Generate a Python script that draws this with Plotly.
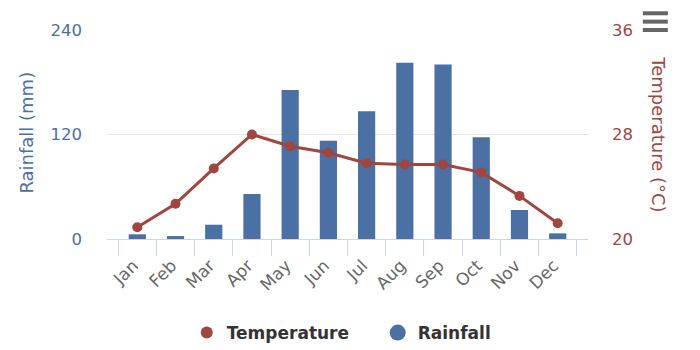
import plotly.graph_objects as go

months = ["Jan", "Feb", "Mar", "Apr", "May", "Jun", "Jul", "Aug", "Sep", "Oct", "Nov", "Dec"]
rainfall = [5.4, 3.4, 16.4, 51.7, 171.0, 112.9, 146.6, 202.4, 200.5, 116.7, 33.3, 6.5]
temperature = [20.9, 22.7, 25.4, 28.0, 27.1, 26.6, 25.8, 25.7, 25.7, 25.1, 23.3, 21.2]
rain_ticks = [0, 120, 240]
temp_ticks = [20, 28, 36]

BLUE = "#4b70a3"
RED = "#a0463f"
FONT = "DejaVu Sans"
PAD = "\u00a0" * 4

fig = go.Figure()
fig.add_trace(go.Bar(x=months, y=rainfall, name="Rainfall", marker=dict(color=BLUE, line=dict(width=0)),
                     showlegend=False, yaxis="y"))
fig.add_trace(go.Scatter(x=months, y=temperature, name="Temperature", mode="lines+markers",
                         line=dict(color=RED, width=3), marker=dict(color=RED, size=10),
                         showlegend=False, yaxis="y2"))
# legend-only entries with circle symbols
fig.add_trace(go.Scatter(x=[None], y=[None], name="Temperature" + PAD, mode="markers",
                         marker=dict(color=RED, size=12), yaxis="y2"))
fig.add_trace(go.Scatter(x=[None], y=[None], name="Rainfall", mode="markers",
                         marker=dict(color=BLUE, size=19), yaxis="y2"))

fig.update_layout(
    width=700, height=350,
    margin=dict(l=107, r=112, t=30, b=111, autoexpand=False),
    paper_bgcolor="white", plot_bgcolor="white",
    font=dict(family=FONT, size=15, color="#666666"),
    bargap=0.55,
    xaxis=dict(type="category", tickangle=-45, showgrid=False, showline=True, linecolor="#ccd6eb",
               linewidth=1, ticks="outside", tickson="boundaries", ticklen=16, tickcolor="#ccd6eb",
               tickfont=dict(size=17, color="#666666"), automargin=False,
               ticklabelstandoff=9, ticklabelshift=-4),
    yaxis=dict(range=[0, 240], tickvals=rain_ticks, showgrid=True, gridcolor="#e6e6e6", gridwidth=1,
               zeroline=False, showline=False, ticks="", ticklabelstandoff=24,
               tickfont=dict(size=16.5, color=BLUE), automargin=False),
    yaxis2=dict(range=[20, 36], tickvals=temp_ticks, overlaying="y", side="right", showgrid=False,
                zeroline=False, showline=False, ticks="", ticklabelstandoff=23,
                tickfont=dict(size=16.5, color=RED), automargin=False),
    legend=dict(orientation="h", x=0.487, xanchor="center", y=-0.45, yanchor="middle",
                font=dict(size=17, color="#333333", family=FONT, weight="bold"),
                itemwidth=30, traceorder="normal"),
    annotations=[
        dict(text="Rainfall (mm)", xref="paper", yref="paper", x=-0.168, y=0.51, xanchor="center",
             yanchor="middle", textangle=-90, showarrow=False, font=dict(size=18, color=BLUE)),
        dict(text="Temperature (°C)", xref="paper", yref="paper", x=1.146, y=0.5, xanchor="center",
             yanchor="middle", textangle=90, showarrow=False, font=dict(size=18, color=RED)),
    ],
    shapes=[
        dict(type="line", xref="paper", yref="paper", x0=1.114, x1=1.166, y0=y, y1=y,
             line=dict(color="#666666", width=4))
        for y in [1.08, 1.04, 1.0]
    ],
)

fig.write_html("out.html")
